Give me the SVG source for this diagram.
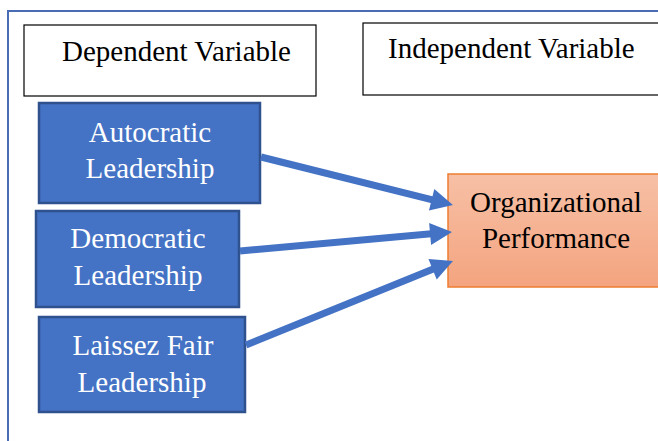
<svg xmlns="http://www.w3.org/2000/svg" width="658" height="441" viewBox="0 0 658 441">
<defs>
<style>
.lbl{font-family:"Liberation Serif","Times New Roman",serif;font-size:29px;fill:#000}
.wt{font-family:"Liberation Serif","Times New Roman",serif;font-size:29px;fill:#fff;text-anchor:middle}
.bk{font-family:"Liberation Serif","Times New Roman",serif;font-size:29px;fill:#000;text-anchor:middle}
.hdr{fill:#fff;stroke:#000;stroke-width:1.2}
.blue{fill:#4472C4;stroke:#2F528F;stroke-width:2.5}
.conn{stroke:#4472C4;stroke-width:7;fill:none}
</style>
<linearGradient id="og" x1="0" y1="0" x2="0" y2="1">
<stop offset="0" stop-color="#F7C0A6"/>
<stop offset="1" stop-color="#F4A47F"/>
</linearGradient>
<marker id="ah" markerUnits="userSpaceOnUse" markerWidth="24" markerHeight="24" refX="4" refY="11" orient="auto" overflow="visible">
<path d="M0,0 L22,11 L0,22 z" fill="#4472C4"/>
</marker>
</defs>
<rect x="0" y="0" width="658" height="441" fill="#fff"/>
<rect id="frame" x="8" y="11" width="700" height="500" fill="none" stroke="#4a6cb5" stroke-width="2"/>
<g id="dependent">
<rect class="hdr" x="24" y="25" width="292" height="71"/>
<text class="lbl" x="62" y="61">Dependent Variable</text>
</g>
<g id="independent">
<rect class="hdr" x="363" y="23" width="310" height="72"/>
<text class="lbl" x="388" y="58">Independent Variable</text>
</g>
<g id="autocratic">
<rect class="blue" x="39" y="103" width="221" height="100"/>
<text class="wt" x="150" y="142">Autocratic</text>
<text class="wt" x="150" y="178">Leadership</text>
</g>
<g id="democratic">
<rect class="blue" x="36" y="211" width="203" height="96"/>
<text class="wt" x="138" y="248">Democratic</text>
<text class="wt" x="138" y="285">Leadership</text>
</g>
<g id="laissez">
<rect class="blue" x="39" y="317" width="206" height="95"/>
<text class="wt" x="143" y="355">Laissez Fair</text>
<text class="wt" x="142" y="392">Leadership</text>
</g>
<g id="performance">
<rect x="448" y="174" width="220" height="113" fill="url(#og)" stroke="#ED7D31" stroke-width="1.5"/>
<text class="bk" x="556" y="212">Organizational</text>
<text class="bk" x="556" y="248">Performance</text>
</g>
<g id="connectors">
<line class="conn" x1="261" y1="157" x2="435.5" y2="200.7" marker-end="url(#ah)"/>
<line class="conn" x1="240" y1="251" x2="434.1" y2="233.6" marker-end="url(#ah)"/>
<line class="conn" x1="246" y1="345" x2="436.3" y2="267.7" marker-end="url(#ah)"/>
</g>
</svg>
